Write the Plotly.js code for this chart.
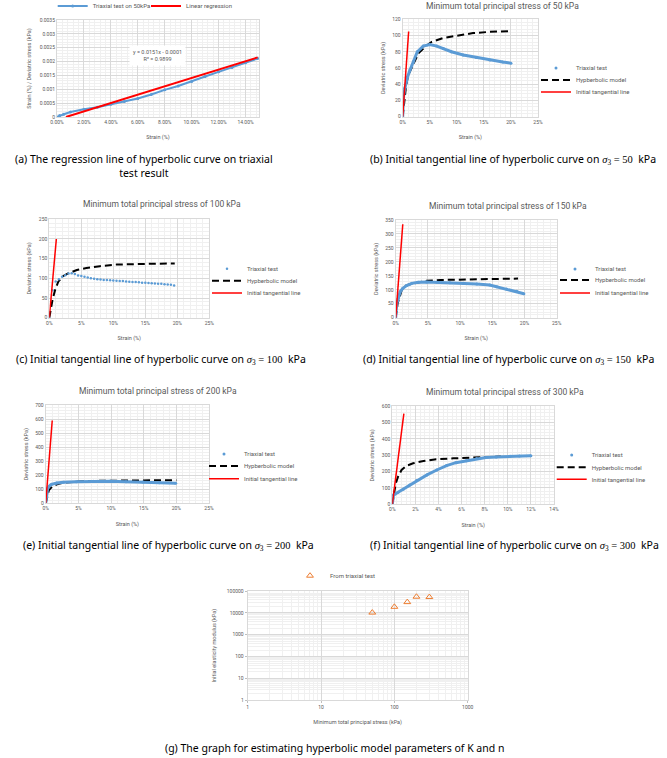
<!DOCTYPE html>
<html>
<head>
<meta charset="utf-8">
<script src="https://cdn.plot.ly/plotly-3.0.1.min.js"></script>
<style>
  html, body { margin: 0; padding: 0; background: #ffffff; }
  #chart { width: 667px; height: 758px; }
</style>
</head>
<body>
<div id="chart"></div>
<script>
// ---------- (a) strain / deviatoric stress vs strain, 50 kPa ----------
const ratioStrain = [0, 0.002, 0.005, 0.01, 0.02, 0.03, 0.04, 0.05, 0.06, 0.07, 0.08, 0.09, 0.10, 0.11, 0.12, 0.13, 0.14, 0.149];
const ratioValue  = [0, 0.00005, 0.0001, 0.00018, 0.00028, 0.00035, 0.00046, 0.00056, 0.00067, 0.00081, 0.00098, 0.00112, 0.00128, 0.00146, 0.00163, 0.00179, 0.00196, 0.00211];
const regSlope = 0.0151;
const regIntercept = -0.0001;
const regR2 = 0.9899;
const ratioTickVals = [0, 0.0005, 0.001, 0.0015, 0.002, 0.0025, 0.003, 0.0035];
const ratioTickText = ['0', '0.0005', '0.001', '0.0015', '0.002', '0.0025', '0.003', '0.0035'];

// ---------- (b) sigma3 = 50 kPa ----------
const testStrain50 = [0, 0.001, 0.004, 0.009, 0.0135, 0.02, 0.027, 0.038, 0.05, 0.063, 0.075, 0.09, 0.112, 0.136, 0.161, 0.185, 0.20];
const testStress50 = [0, 22, 35, 49, 57.5, 68, 80, 87, 89, 87, 84, 80, 76, 73, 70, 67.5, 66];
const modelStrain50 = [0, 0.004, 0.006, 0.01, 0.02, 0.029, 0.041, 0.053, 0.075, 0.10, 0.13, 0.16, 0.20];
const modelStress50 = [0, 25, 37, 51, 66, 78, 86, 92, 97, 100, 103, 104.5, 105.5];
const tanStrain50 = [0, 0.011];
const tanStress50 = [0, 105];

// ---------- (c) sigma3 = 100 kPa ----------
const testStrain100 = [0, 0.005, 0.01, 0.015, 0.02, 0.025, 0.03, 0.035, 0.04, 0.045, 0.05, 0.055, 0.06, 0.065, 0.07, 0.075, 0.08, 0.085, 0.09, 0.095, 0.10,
  0.105, 0.11, 0.115, 0.12, 0.125, 0.13, 0.135, 0.14, 0.145, 0.15, 0.155, 0.16, 0.165, 0.17, 0.175, 0.18, 0.185, 0.19, 0.195];
const testStress100 = [0, 70, 92, 98, 104, 108, 112, 113, 111, 107, 106, 104, 102, 100, 99, 98, 97, 96, 95.5, 95, 94.5,
  94, 93.5, 93, 92, 91.5, 91, 90.5, 90, 89, 88.5, 88, 87.5, 87, 86.5, 86, 85, 84.5, 83.5, 82];
const modelStrain100 = [0, 0.005, 0.009, 0.014, 0.022, 0.03, 0.043, 0.058, 0.079, 0.105, 0.142, 0.196];
const modelStress100 = [0, 45, 70, 91.5, 106, 113, 121, 126, 131, 135, 136.5, 138];
const tanStrain100 = [0, 0.011];
const tanStress100 = [0, 200];

// ---------- (d) sigma3 = 150 kPa ----------
const testStrain150 = [0, 0.0015, 0.004, 0.007, 0.011, 0.017, 0.025, 0.035, 0.048, 0.064, 0.084, 0.105, 0.126, 0.146, 0.157, 0.172, 0.188, 0.199];
const testStress150 = [0, 48, 69, 93, 105, 115, 123, 127, 128, 127, 125.5, 123, 120.5, 117, 111, 103, 94.5, 86];
const modelStrain150 = [0, 0.003, 0.006, 0.009, 0.017, 0.033, 0.048, 0.069, 0.105, 0.146, 0.19];
const modelStress150 = [0, 51, 73, 97, 117, 125.5, 132.5, 135, 137.5, 138.5, 140];
const tanStrain150 = [0, 0.011];
const tanStress150 = [0, 335];

// ---------- (e) sigma3 = 200 kPa ----------
const testStrain200 = [0, 0.0015, 0.003, 0.0055, 0.009, 0.017, 0.027, 0.047, 0.073, 0.098, 0.123, 0.149, 0.174, 0.199];
const testStress200 = [0, 71, 107, 123, 135, 145, 150, 154, 157, 157, 154, 152, 147, 142];
const modelStrain200 = [0, 0.003, 0.005, 0.01, 0.02, 0.03, 0.05, 0.08, 0.10, 0.12, 0.15, 0.20];
const modelStress200 = [0, 70, 95, 120, 140, 148, 155, 160, 161, 163, 164, 165];
const tanStrain200 = [0, 0.01];
const tanStress200 = [0, 590];

// ---------- (f) sigma3 = 300 kPa ----------
const testStrain300 = [0, 0.001, 0.0025, 0.005, 0.0095, 0.015, 0.021, 0.03, 0.0385, 0.047, 0.055, 0.064, 0.073, 0.081, 0.09, 0.102, 0.11, 0.12];
const testStress300 = [0, 57, 63, 73.5, 92, 118, 145, 180, 210, 237, 255, 267, 280, 286, 290, 294, 296, 298];
const modelStrain300 = [0, 0.0015, 0.003, 0.005, 0.008, 0.012, 0.018, 0.027, 0.038, 0.053, 0.067, 0.081, 0.094];
const modelStress300 = [0, 77, 128, 169, 210, 235, 251, 265, 275.5, 281.5, 286, 290, 292];
const tanStrain300 = [0, 0.01];
const tanStress300 = [0, 555];

// ---------- (g) initial modulus vs confining stress ----------
const sigma3 = [50, 100, 150, 200, 300];
const initialModulus = [10300, 18900, 31000, 54700, 52900];
const logXTickVals = [1, 10, 100, 1000];
const logXTickText = ['1', '10', '100', '1000'];
const logYTickVals = [1, 10, 100, 1000, 10000, 100000];
const logYTickText = ['1', '10', '100', '1000', '10000', '100000'];

// ---------- styling ----------
const W = 667, H = 758;
const FONT = 'Roboto, "Liberation Sans", sans-serif';
const CAPTION_FONT = '"Noto Sans", "Open Sans", sans-serif';
const GREY = '#595959';
const BLUE = '#5B9BD5';
const RED = '#FF0000';
const ORANGE = '#ED7D31';

const px = p => p / W;
const py = p => 1 - p / H;

function axis(domainPx, isX, opts) {
  const base = {
    domain: isX ? [px(domainPx[0]), px(domainPx[1])] : [py(domainPx[1]), py(domainPx[0])],
    showgrid: true, gridcolor: '#D9D9D9', gridwidth: 1,
    zeroline: false, showline: true, linecolor: '#D9D9D9', linewidth: 1, mirror: true,
    ticks: '', tickfont: { family: FONT, size: 5, color: GREY },
    automargin: false, fixedrange: true,
    minor: { showgrid: true, gridcolor: '#F0F0F0', gridwidth: 1, dtick: opts.minor },
    title: { text: opts.title || '', font: { family: FONT, size: 5.5, color: GREY }, standoff: opts.standoff }
  };
  delete opts.minor; delete opts.title; delete opts.standoff;
  return Object.assign(base, opts);
}

function legendAt(textX, midY) {
  return {
    x: px(textX - 40), y: py(midY), xanchor: 'left', yanchor: 'middle',
    bgcolor: 'rgba(0,0,0,0)', borderwidth: 0,
    font: { family: FONT, size: 6, color: GREY },
    itemclick: false, itemdoubleclick: false
  };
}

const traces = [];

// (a)
const regLineX = [-regIntercept / regSlope, ratioStrain[ratioStrain.length - 1]];
const regLineY = regLineX.map(x => regSlope * x + regIntercept);
traces.push({
  x: ratioStrain, y: ratioValue, xaxis: 'x', yaxis: 'y', type: 'scatter', mode: 'lines+markers',
  name: 'Triaxial test on 50kPa', legend: 'legend',
  line: { color: BLUE, width: 2 }, marker: { color: BLUE, size: 3 }
});
traces.push({
  x: regLineX, y: regLineY, xaxis: 'x', yaxis: 'y', type: 'scatter', mode: 'lines',
  name: 'Linear regression', legend: 'legend2',
  line: { color: RED, width: 2 }
});

// (b) - (f)
const panels = [
  { n: 2, tx: testStrain50,  ty: testStress50,  mx: modelStrain50,  my: modelStress50,  kx: tanStrain50,  ky: tanStress50,  dotted: false },
  { n: 3, tx: testStrain100, ty: testStress100, mx: modelStrain100, my: modelStress100, kx: tanStrain100, ky: tanStress100, dotted: true },
  { n: 4, tx: testStrain150, ty: testStress150, mx: modelStrain150, my: modelStress150, kx: tanStrain150, ky: tanStress150, dotted: false },
  { n: 5, tx: testStrain200, ty: testStress200, mx: modelStrain200, my: modelStress200, kx: tanStrain200, ky: tanStress200, dotted: false },
  { n: 6, tx: testStrain300, ty: testStress300, mx: modelStrain300, my: modelStress300, kx: tanStrain300, ky: tanStress300, dotted: false }
];
panels.forEach((p, i) => {
  const xa = 'x' + p.n, ya = 'y' + p.n;
  const lg = 3 + i * 3;
  traces.push({
    x: p.mx, y: p.my, xaxis: xa, yaxis: ya, type: 'scatter', mode: 'lines',
    name: 'Hypberbolic model', legend: 'legend' + (lg + 1),
    line: { color: '#000000', width: 2, dash: '7px,4px' }
  });
  if (!p.dotted) {
    traces.push({
      x: p.tx, y: p.ty, xaxis: xa, yaxis: ya, type: 'scatter', mode: 'lines',
      showlegend: false, hoverinfo: 'skip',
      line: { color: BLUE, width: 3 }
    });
  }
  traces.push({
    x: p.tx, y: p.ty, xaxis: xa, yaxis: ya, type: 'scatter', mode: 'markers',
    name: 'Triaxial test', legend: 'legend' + lg,
    marker: { color: BLUE, size: p.dotted ? 2.5 : 3 }
  });
  traces.push({
    x: p.kx, y: p.ky, xaxis: xa, yaxis: ya, type: 'scatter', mode: 'lines',
    name: 'Initial tangential line', legend: 'legend' + (lg + 2),
    line: { color: RED, width: 1.5 }
  });
});

// (g)
traces.push({
  x: sigma3, y: initialModulus, xaxis: 'x7', yaxis: 'y7', type: 'scatter', mode: 'markers',
  name: 'From triaxial test', legend: 'legend18',
  marker: { symbol: 'triangle-up-open', color: ORANGE, size: 6, line: { width: 1, color: ORANGE } }
});

const logTicks = { ticks: 'outside', ticklen: 2, tickcolor: '#BFBFBF', tickwidth: 1 };

const layout = {
  width: W, height: H,
  margin: { l: 0, r: 0, t: 0, b: 0, autoexpand: false },
  paper_bgcolor: '#ffffff', plot_bgcolor: '#ffffff',
  font: { family: FONT, color: GREY },
  hovermode: false,

  xaxis:  axis([57, 259], true,  { anchor: 'y',  range: [0, 0.15], dtick: 0.02, tickformat: '.2%', minor: 0.004, title: 'Strain (%)', standoff: 11 }),
  yaxis:  axis([20, 117], false, { anchor: 'x',  range: [0, 0.0035], tickvals: ratioTickVals, ticktext: ratioTickText, minor: 0.0001, title: 'Strain (%) / Deviatric stress (kPa)', standoff: 7 }),

  xaxis2: axis([402.7, 538], true,  { anchor: 'y2', range: [0, 0.25], dtick: 0.05, tickformat: '.0%', minor: 0.01, title: 'Strain (%)', standoff: 11 }),
  yaxis2: axis([19.3, 116.7], false, { anchor: 'x2', range: [0, 120], dtick: 20, minor: 4, title: 'Deviatric stress (kPa)', standoff: 6 }),

  xaxis3: axis([49.3, 209.3], true,  { anchor: 'y3', range: [0, 0.25], dtick: 0.05, tickformat: '.0%', minor: 0.01, title: 'Strain (%)', standoff: 11 }),
  yaxis3: axis([219.3, 317.7], false, { anchor: 'x3', range: [0, 250], dtick: 50, minor: 10, title: 'Deviatric stress (kPa)', standoff: 6 }),

  xaxis4: axis([395.7, 556.7], true,  { anchor: 'y4', range: [0, 0.25], dtick: 0.05, tickformat: '.0%', minor: 0.01, title: 'Strain (%)', standoff: 11 }),
  yaxis4: axis([220, 317.7], false, { anchor: 'x4', range: [0, 350], dtick: 50, minor: 10, title: 'Deviatric stress (kPa)', standoff: 6 }),

  xaxis5: axis([45.7, 209], true,  { anchor: 'y5', range: [0, 0.25], dtick: 0.05, tickformat: '.0%', minor: 0.01, title: 'Strain (%)', standoff: 11 }),
  yaxis5: axis([405, 503.3], false, { anchor: 'x5', range: [0, 700], dtick: 100, minor: 20, title: 'Deviatric stress (kPa)', standoff: 6 }),

  xaxis6: axis([392.3, 554], true,  { anchor: 'y6', range: [0, 0.14], dtick: 0.02, tickformat: '.0%', minor: 0.004, title: 'Strain (%)', standoff: 11 }),
  yaxis6: axis([406.3, 504.3], false, { anchor: 'x6', range: [0, 600], dtick: 100, minor: 20, title: 'Deviatric stress (kPa)', standoff: 6 }),

  xaxis7: axis([247.7, 467.7], true,  Object.assign({ anchor: 'y7', type: 'log', range: [0, 3], tickvals: logXTickVals, ticktext: logXTickText, minor: 'D1', title: 'Minimum total principal stress (kPa)', standoff: 10 }, logTicks)),
  yaxis7: axis([591, 700.3], false, Object.assign({ anchor: 'x7', type: 'log', range: [0, 5], tickvals: logYTickVals, ticktext: logYTickText, minor: 'D1', title: 'Initial elasticity modulus (kPa)', standoff: 9 }, logTicks)),

  legend:   legendAt(92.7, 6),
  legend2:  legendAt(186, 6),
  legend3:  legendAt(576, 68),   legend4:  legendAt(576, 80),   legend5:  legendAt(576, 92),
  legend6:  legendAt(247, 268.7), legend7: legendAt(247, 280.7), legend8:  legendAt(247, 293),
  legend9:  legendAt(595, 269),  legend10: legendAt(595, 280),  legend11: legendAt(595, 293),
  legend12: legendAt(244, 454),  legend13: legendAt(244, 466),  legend14: legendAt(244, 478.7),
  legend15: legendAt(591.7, 455), legend16: legendAt(591.7, 467.3), legend17: legendAt(591.7, 479.3),
  legend18: legendAt(330, 575.7),

  annotations: []
};

// panel titles
const panelTitles = [
  ['Minimum total principal stress of 50 kPa', 502.5, 6],
  ['Minimum total principal stress of 100 kPa', 161.7, 204],
  ['Minimum total principal stress of 150 kPa', 508.3, 205.7],
  ['Minimum total principal stress of 200 kPa', 158, 390.7],
  ['Minimum total principal stress of 300 kPa', 505, 391.7]
];
panelTitles.forEach(t => layout.annotations.push({
  text: t[0], xref: 'paper', yref: 'paper', x: px(t[1]), y: py(t[2]),
  xanchor: 'center', yanchor: 'middle', showarrow: false,
  font: { family: FONT, size: 8.5, color: GREY }
}));

// regression equation box
layout.annotations.push({
  text: 'y = ' + regSlope + 'x - ' + Math.abs(regIntercept).toFixed(4) + '<br>R² = ' + regR2,
  xref: 'paper', yref: 'paper', x: px(157), y: py(55.5), xanchor: 'center', yanchor: 'middle',
  showarrow: false, bgcolor: '#ffffff', borderpad: 3, align: 'center',
  font: { family: FONT, size: 5.5, color: GREY }
});

// figure captions
const sig = v => '<span style="font-family:\'Liberation Serif\', serif"><i>σ</i><sub>3</sub> = ' + v + '</span>\u00a0\u00a0kPa';
const captions = [
  ['(a) The regression line of hyperbolic curve on triaxial<br>test result', 143.5, 166],
  ['(b) Initial tangential line of hyperbolic curve on ' + sig(50), 512.8, 159],
  ['(c) Initial tangential line of hyperbolic curve on ' + sig(100), 160.8, 359],
  ['(d) Initial tangential line of hyperbolic curve on ' + sig(150), 508.3, 359],
  ['(e) Initial tangential line of hyperbolic curve on ' + sig(200), 168.3, 545.7],
  ['(f) Initial tangential line of hyperbolic curve on ' + sig(300), 514.3, 545],
  ['(g) The graph for estimating hyperbolic model parameters of K and n', 334.5, 748]
];
captions.forEach(c => layout.annotations.push({
  text: c[0], xref: 'paper', yref: 'paper', x: px(c[1]), y: py(c[2]),
  xanchor: 'center', yanchor: 'middle', showarrow: false, align: 'center',
  font: { family: CAPTION_FONT, size: 10.5, color: '#000000' }
}));

Plotly.newPlot('chart', traces, layout, { staticPlot: true, displayModeBar: false });
</script>
</body>
</html>
